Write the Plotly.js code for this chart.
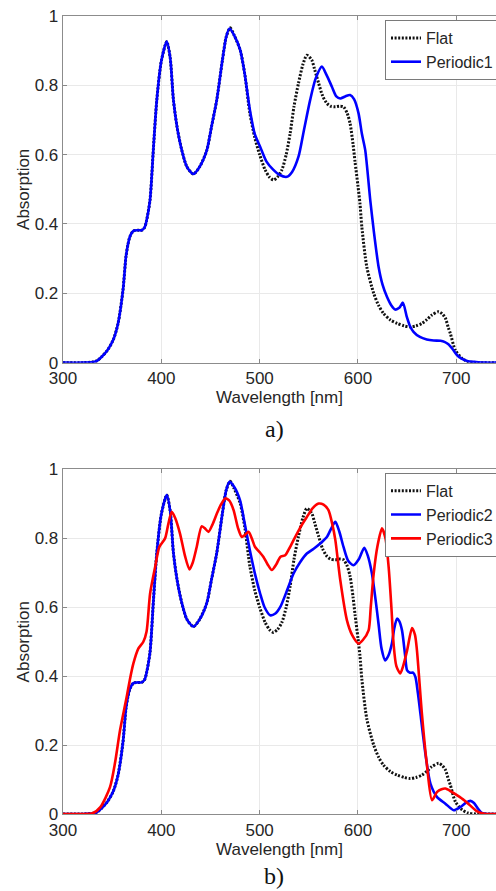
<!DOCTYPE html>
<html>
<head>
<meta charset="utf-8">
<script src="https://cdn.plot.ly/plotly-3.0.1.min.js"></script>
<style>
html,body{margin:0;padding:0;overflow:hidden;background:#fff;}
#chart{width:496px;height:891px;}
</style>
</head>
<body>
<div id="chart"></div>
<script>
// ---- Data ----
// (a) Flat
const flatWl = [300,320,330.5,335,339.4,345,351,356,361,364,366,368,371.6,376,380,383,385,388.5,392,395.4,400,405.5,409,412.3,416,420.8,426,432.6,439,446.3,451,456.4,462,466,470,474,480.2,485,490,495,500,505.6,510,514,518,522.6,527,531,535,539.5,544,548,553,556,560,564,568.4,572,577,581,585.3,589,592,595,597,600,602,604,609,616,621,626,633,640,647,653,659,665,670,675,682,686,689,692,694,699,706,712,720,741];
const flatAbs = [0,0,0.002,0.006,0.017,0.035,0.065,0.113,0.209,0.305,0.34,0.363,0.38,0.382,0.382,0.39,0.41,0.469,0.62,0.758,0.87,0.926,0.88,0.758,0.68,0.613,0.565,0.544,0.565,0.613,0.68,0.758,0.87,0.94,0.966,0.945,0.902,0.83,0.72,0.65,0.60,0.556,0.535,0.527,0.535,0.556,0.60,0.661,0.74,0.806,0.86,0.887,0.873,0.845,0.806,0.77,0.748,0.74,0.738,0.74,0.738,0.72,0.69,0.63,0.58,0.51,0.46,0.39,0.276,0.2,0.165,0.142,0.123,0.113,0.106,0.103,0.106,0.113,0.124,0.137,0.147,0.14,0.128,0.10,0.084,0.036,0.012,0.003,0,0];

// (a) Periodic1
const p1Wl = [300,320,330.5,335,339.4,345,351,356,361,364,366,368,371.6,376,380,383,385,388.5,392,395.4,400,405.5,409,412.3,416,420.8,426,432.6,439,446.3,451,456.4,462,466,469.3,474,480.2,485,490,495,500.5,507,514,520,527.7,533,539.5,545,551.4,557,563.3,568,573.5,578,582,587,592,596,600.6,604,607.4,612.5,616,621,625,629.5,634,638,642,645.7,649.7,653,656.5,663,670,677,684,688,692,696,700.7,705,711,720,730,741];
const p1Abs = [0,0,0.002,0.006,0.017,0.035,0.065,0.113,0.209,0.305,0.34,0.363,0.38,0.382,0.382,0.39,0.41,0.469,0.62,0.758,0.87,0.926,0.88,0.758,0.68,0.613,0.565,0.544,0.565,0.613,0.68,0.758,0.87,0.94,0.964,0.945,0.902,0.83,0.73,0.66,0.623,0.58,0.556,0.542,0.536,0.55,0.594,0.67,0.758,0.82,0.854,0.83,0.796,0.768,0.762,0.768,0.772,0.76,0.719,0.66,0.613,0.469,0.382,0.276,0.225,0.19,0.165,0.153,0.158,0.173,0.132,0.105,0.089,0.074,0.067,0.064,0.063,0.06,0.053,0.04,0.022,0.012,0.005,0.002,0,0];

// (b) Periodic2
const p2Wl = [300,320,330.5,335,339.4,345,351,356,361,364,366,368,371.6,376,380,383,385,388.5,392,395.4,400,405.5,409,412.3,416,420.8,426,432.6,439,446.3,451,456.4,462,466,469.3,474,480,485,490,495,500.5,505,510.7,516,521,528,534.5,541,548,555,561.6,568.4,573,577,581,585.3,590,595.5,601,606.4,610,614.2,618,621,624,627.7,631,634.5,637,639.7,642,644.8,648,650,653,656,658.4,661,663.5,668.6,673.7,680.5,688.9,697.4,704,710,714.4,718,721,726,732,741];
const p2Abs = [0,0,0.002,0.006,0.017,0.035,0.065,0.113,0.209,0.305,0.34,0.363,0.38,0.382,0.382,0.39,0.41,0.469,0.62,0.758,0.87,0.926,0.88,0.758,0.68,0.613,0.565,0.544,0.565,0.613,0.68,0.758,0.87,0.94,0.964,0.95,0.911,0.84,0.766,0.70,0.64,0.60,0.577,0.582,0.601,0.65,0.698,0.73,0.756,0.77,0.785,0.804,0.83,0.848,0.82,0.775,0.735,0.722,0.74,0.773,0.75,0.698,0.62,0.55,0.48,0.446,0.46,0.495,0.54,0.567,0.56,0.533,0.46,0.417,0.41,0.41,0.398,0.35,0.292,0.175,0.088,0.049,0.03,0.011,0.02,0.033,0.038,0.032,0.02,0.003,0,0];

// (b) Periodic3
const p3Wl = [300,320,330,338,347.8,353,358,364.8,368,371.6,376.6,381.7,385,388.6,393.7,398,403.8,407,410.6,414,419,424,428.6,432,436,441,444,448,452,456.5,461,465,469,473.5,478,481.9,485,488.7,492,495.4,500,503.9,508,512.4,517,521,526,530,534.5,541,548,554,560,565,570,574,577,582,588.8,594,600.6,605,610.8,613,616,620,624.4,628,631.2,634,636.2,639,643,646,650,655,658,660,665,670,675.3,680.5,685,689,695,701,708,714,720,725,730,741];
const p3Abs = [0,0,0.002,0.02,0.078,0.15,0.243,0.34,0.39,0.437,0.48,0.50,0.53,0.64,0.717,0.775,0.80,0.84,0.877,0.86,0.814,0.75,0.71,0.73,0.775,0.835,0.83,0.819,0.84,0.872,0.90,0.916,0.91,0.882,0.83,0.804,0.81,0.819,0.80,0.775,0.76,0.746,0.725,0.708,0.725,0.746,0.751,0.77,0.795,0.83,0.862,0.888,0.901,0.898,0.882,0.84,0.795,0.679,0.562,0.52,0.495,0.505,0.533,0.6,0.698,0.78,0.829,0.80,0.717,0.6,0.495,0.43,0.408,0.43,0.475,0.54,0.52,0.475,0.292,0.146,0.04,0.064,0.072,0.074,0.065,0.054,0.04,0.025,0.01,0.003,0,0];

const xTicks = [300,400,500,600,700];
const yTicks = [0,0.2,0.4,0.6,0.8,1];

// ---- Styling ----
const FONT = 'Liberation Sans, Arial, sans-serif';
const TXT = '#262626';
const flatLine = {color:'#111', width:3, dash:'2px,1.6px', shape:'spline', smoothing:0.7};
function solid(c){ return {color:c, width:2.6, shape:'spline', smoothing:0.7}; }

const traces = [
  {x:flatWl, y:flatAbs, name:'Flat', type:'scatter', mode:'lines', line:flatLine, xaxis:'x', yaxis:'y', legend:'legend'},
  {x:p1Wl, y:p1Abs, name:'Periodic1', type:'scatter', mode:'lines', line:solid('#0000ff'), xaxis:'x', yaxis:'y', legend:'legend'},
  {x:flatWl, y:flatAbs, name:'Flat', type:'scatter', mode:'lines', line:flatLine, xaxis:'x2', yaxis:'y2', legend:'legend2'},
  {x:p2Wl, y:p2Abs, name:'Periodic2', type:'scatter', mode:'lines', line:solid('#0000ff'), xaxis:'x2', yaxis:'y2', legend:'legend2'},
  {x:p3Wl, y:p3Abs, name:'Periodic3', type:'scatter', mode:'lines', line:solid('#ff0000'), xaxis:'x2', yaxis:'y2', legend:'legend2'}
];

const H = 891, mt = 16, mb = 77.3, ph = H - mt - mb;
const topLow = (H - mb - 362.5) / ph;
const botHigh = (H - mb - 469.3) / ph;

function xax(anchor){
  return {anchor:anchor, range:[300,740.4], tickvals:xTicks, ticktext:xTicks.map(String),
    ticks:'inside', ticklen:4, tickcolor:'#888', showline:true, linecolor:'#8c8c8c', linewidth:1.3,
    mirror:'ticks', showgrid:true, gridcolor:'#e9e9e9', gridwidth:1, zeroline:false,
    tickfont:{family:FONT, size:17, color:TXT},
    title:{text:'Wavelength [nm]', font:{family:FONT, size:17, color:TXT}, standoff:0}};
}
function yax(anchor, dom){
  return {anchor:anchor, domain:dom, range:[0,1], tickvals:yTicks, ticktext:['0','0.2','0.4','0.6','0.8','1'],
    ticks:'inside', ticklen:4, tickcolor:'#888', showline:true, linecolor:'#8c8c8c', linewidth:1.3,
    mirror:false, showgrid:true, gridcolor:'#e9e9e9', gridwidth:1, zeroline:false,
    tickfont:{family:FONT, size:17, color:TXT},
    title:{text:'Absorption', font:{family:FONT, size:17, color:TXT}, standoff:0}};
}

const legendStyle = (y) => ({x:(385-63)/433, xanchor:'left', y:y, yanchor:'top',
  bgcolor:'#ffffff', bordercolor:'#7a7a7a', borderwidth:1,
  font:{family:FONT, size:16, color:TXT}, itemwidth:30, tracegroupgap:0});

const layout = {
  width:496, height:H,
  margin:{l:63, r:0, t:mt, b:mb, autoexpand:false},
  paper_bgcolor:'#fff', plot_bgcolor:'#fff',
  showlegend:true,
  xaxis:xax('y'),
  yaxis:yax('x', [topLow, 1]),
  xaxis2:xax('y2'),
  yaxis2:yax('x2', [0, botHigh]),
  legend:legendStyle(1 - 4/ph),
  legend2:legendStyle(botHigh - 3.4/ph),
  annotations:[
    {text:'a)', xref:'paper', yref:'paper', x:(274-63)/433, y:(H-mb-429)/ph, showarrow:false,
     xanchor:'center', yanchor:'middle', font:{family:'Liberation Serif, Times New Roman, serif', size:24, color:'#111'}},
    {text:'b)', xref:'paper', yref:'paper', x:(274-63)/433, y:(H-mb-876)/ph, showarrow:false,
     xanchor:'center', yanchor:'middle', font:{family:'Liberation Serif, Times New Roman, serif', size:24, color:'#111'}}
  ]
};

Plotly.newPlot('chart', traces, layout, {staticPlot:true, displayModeBar:false});
</script>
</body>
</html>
